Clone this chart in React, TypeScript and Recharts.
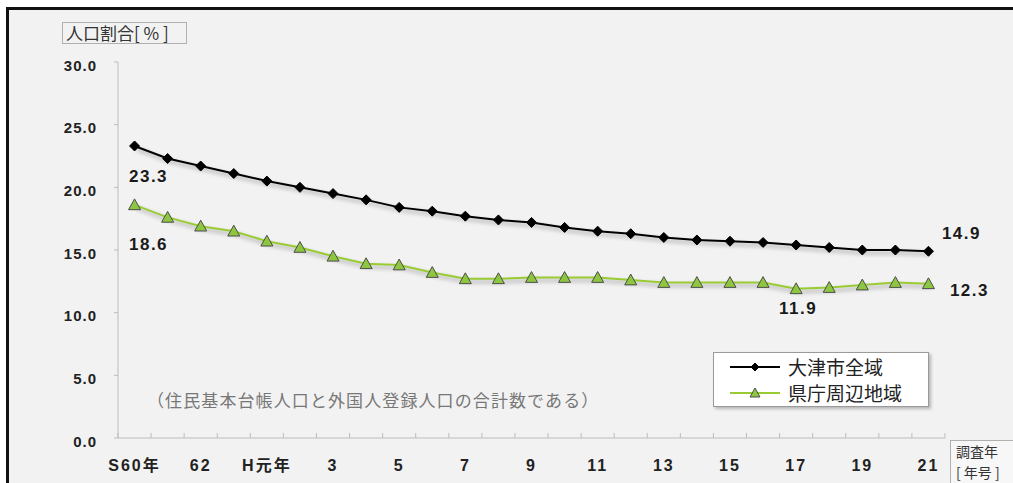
import React from 'react';
import { ComposedChart, Line, XAxis, YAxis, Legend } from 'recharts';

// survey years, Showa 60 through Heisei 21
const years = [
  'S60', 'S61', 'S62', 'S63', 'H1', 'H2', 'H3', 'H4', 'H5', 'H6', 'H7', 'H8', 'H9',
  'H10', 'H11', 'H12', 'H13', 'H14', 'H15', 'H16', 'H17', 'H18', 'H19', 'H20', 'H21',
];

// only every second year gets a label on the axis
const tickLabels: Record<string, string> = {
  S60: 'S60年', S62: '62', H1: 'H元年', H3: '3', H5: '5', H7: '7', H9: '9',
  H11: '11', H13: '13', H15: '15', H17: '17', H19: '19', H21: '21',
};

// 大津市全域
const otsuCity = [
  23.3, 22.3, 21.7, 21.1, 20.5, 20.0, 19.5, 19.0, 18.4, 18.1, 17.7, 17.4, 17.2,
  16.8, 16.5, 16.3, 16.0, 15.8, 15.7, 15.6, 15.4, 15.2, 15.0, 15.0, 14.9,
];

// 県庁周辺地域
const prefOfficeArea = [
  18.6, 17.6, 16.9, 16.5, 15.7, 15.2, 14.5, 13.9, 13.8, 13.2, 12.7, 12.7, 12.8,
  12.8, 12.8, 12.6, 12.4, 12.4, 12.4, 12.4, 11.9, 12.0, 12.2, 12.4, 12.3,
];

const yTicks = [0, 5, 10, 15, 20, 25, 30];

const data = years.map((year, i) => ({
  year,
  otsu: otsuCity[i],
  pref: prefOfficeArea[i],
}));

const W = 1013;
const H = 483;
const PLOT_LEFT = 118;
const PLOT_RIGHT = 945;
const PLOT_TOP = 62;
const PLOT_BOTTOM = 438;
const BAND = (PLOT_RIGHT - PLOT_LEFT) / years.length;

const NUM_FONT = "'Liberation Sans', Arial, 'Noto Sans CJK JP', sans-serif";
const JP_FONT = "'Noto Sans CJK JP', 'Liberation Sans', sans-serif";
const GREEN = '#99cc33';
const AXIS_GRAY = '#bdbdbd';

// where each value label sits relative to its point
const otsuLabelPos: Record<number, [number, number]> = { 0: [14, 31], 24: [33, -18] };
const prefLabelPos: Record<number, [number, number]> = { 0: [14, 40], 20: [2, 20], 24: [41, 7] };

const Diamond = ({ cx, cy, r = 5 }: any) => (
  <polygon
    points={`${cx},${cy - r} ${cx + r},${cy} ${cx},${cy + r} ${cx - r},${cy}`}
    fill="#000"
    stroke="#000"
    strokeWidth={1}
  />
);

const Triangle = ({ cx, cy, s = 6 }: any) => (
  <polygon
    points={`${cx},${cy - s} ${cx + s},${cy + s * 0.8} ${cx - s},${cy + s * 0.8}`}
    fill="#8dc63f"
    stroke="#4d4d4d"
    strokeWidth={1}
  />
);

const makeLabel = (pos: Record<number, [number, number]>) => (props: any) => {
  const { x, y, value, index } = props;
  const off = pos[index];
  if (!off) return null;
  return (
    <text
      key={`lbl-${index}`}
      x={x + off[0]}
      y={y + off[1]}
      textAnchor="middle"
      dominantBaseline="central"
      fontFamily={NUM_FONT}
      fontWeight="bold"
      fontSize={17}
      letterSpacing={1.5}
      fill="#1a1a1a"
    >
      {Number(value).toFixed(1)}
    </text>
  );
};

const XTick = ({ x, payload }: any) => {
  const i = years.indexOf(payload.value);
  const label = tickLabels[payload.value];
  const left = x - BAND / 2;
  return (
    <g>
      <line x1={left} x2={left} y1={PLOT_BOTTOM - 5} y2={PLOT_BOTTOM} stroke={AXIS_GRAY} />
      {i === years.length - 1 && (
        <line x1={x + BAND / 2} x2={x + BAND / 2} y1={PLOT_BOTTOM - 5} y2={PLOT_BOTTOM} stroke={AXIS_GRAY} />
      )}
      {label && (
        <text
          x={x}
          y={471}
          textAnchor="middle"
          fontFamily={NUM_FONT}
          fontWeight="bold"
          fontSize={16}
          letterSpacing={2}
          fill="#222"
        >
          {label}
        </text>
      )}
    </g>
  );
};

const YTick = ({ x, y, payload }: any) => (
  <text
    x={x}
    y={y + 3}
    textAnchor="end"
    dominantBaseline="central"
    fontFamily={NUM_FONT}
    fontWeight="bold"
    fontSize={15}
    letterSpacing={1}
    fill="#222"
  >
    {Number(payload.value).toFixed(1)}
  </text>
);

const legendItems = [
  { name: '大津市全域', color: '#000', marker: 'diamond' },
  { name: '県庁周辺地域', color: GREEN, marker: 'triangle' },
];

const LegendBox = () => (
  <div
    style={{
      width: 216,
      height: 55,
      background: '#fff',
      border: '1px solid #9a9a9a',
      boxShadow: '2px 2px 3px rgba(0,0,0,0.25)',
      boxSizing: 'border-box',
      paddingTop: 1,
    }}
  >
    {legendItems.map((item) => (
      <div key={item.name} style={{ position: 'relative', height: 26 }}>
        <svg width={60} height={26} style={{ position: 'absolute', left: 14, top: 0 }}>
          <line x1={2} x2={52} y1={13} y2={13} stroke={item.color} strokeWidth={2} />
          {item.marker === 'diamond' ? <Diamond cx={27} cy={13} r={4} /> : <Triangle cx={27} cy={13} s={5} />}
        </svg>
        <span
          style={{
            position: 'absolute',
            left: 74,
            top: 0,
            lineHeight: '26px',
            fontFamily: JP_FONT,
            fontSize: 19,
            color: '#222',
            whiteSpace: 'nowrap',
          }}
        >
          {item.name}
        </span>
      </div>
    ))}
  </div>
);

const captionLine: React.CSSProperties = {
  position: 'absolute',
  left: 5,
  fontFamily: JP_FONT,
  fontSize: 14,
  lineHeight: '14px',
  color: '#333',
  whiteSpace: 'nowrap',
};

export default function App() {
  return (
    <div style={{ position: 'absolute', left: 0, top: 0, width: W, height: H, background: '#fff', overflow: 'hidden' }}>
      <style>{`.marker-shadow { filter: drop-shadow(2px 3px 2px rgba(0,0,0,0.35)); }`}</style>
      <div
        style={{
          position: 'absolute',
          left: 6,
          top: 7,
          width: W,
          height: H,
          borderLeft: '3px solid #111',
          borderTop: '3px solid #111',
          background: '#f2f2f2',
        }}
      />
      <div style={{ position: 'absolute', left: 0, top: 0 }}>
        <ComposedChart
          width={W}
          height={H}
          data={data}
          margin={{ top: PLOT_TOP, right: W - PLOT_RIGHT, bottom: 0, left: 0 }}
        >
          <XAxis
            dataKey="year"
            type="category"
            interval={0}
            padding={{ left: BAND / 2, right: BAND / 2 }}
            height={H - PLOT_BOTTOM}
            tickLine={false}
            axisLine={{ stroke: AXIS_GRAY }}
            tick={<XTick />}
          />
          <YAxis
            type="number"
            domain={[0, 30]}
            ticks={yTicks}
            width={PLOT_LEFT}
            tickSize={4}
            tickMargin={17}
            tickLine={{ stroke: AXIS_GRAY }}
            axisLine={{ stroke: AXIS_GRAY }}
            tick={<YTick />}
          />
          <Legend
            layout="vertical"
            align="center"
            verticalAlign="middle"
            wrapperStyle={{ left: 713, top: 352, width: 216 }}
            content={() => <LegendBox />}
          />
          <Line
            className="marker-shadow"
            dataKey="otsu"
            name="大津市全域"
            stroke="#000"
            strokeWidth={2}
            dot={(p: any) => <Diamond key={`d-${p.index}`} cx={p.cx} cy={p.cy} />}
            activeDot={false}
            label={makeLabel(otsuLabelPos)}
            isAnimationActive={false}
          />
          <Line
            className="marker-shadow"
            dataKey="pref"
            name="県庁周辺地域"
            stroke={GREEN}
            strokeWidth={2}
            dot={(p: any) => <Triangle key={`t-${p.index}`} cx={p.cx} cy={p.cy} />}
            activeDot={false}
            label={makeLabel(prefLabelPos)}
            isAnimationActive={false}
          />
        </ComposedChart>
      </div>
      {/* y axis caption */}
      <div
        style={{
          position: 'absolute',
          left: 62,
          top: 22,
          width: 125,
          height: 22,
          border: '1px solid #b0b0b0',
          boxSizing: 'border-box',
          fontFamily: JP_FONT,
          fontSize: 17,
          lineHeight: '20px',
          color: '#333',
          paddingLeft: 3,
          whiteSpace: 'nowrap',
        }}
      >
        人口割合[ % ]
      </div>
      {/* note inside the plot */}
      <div
        style={{
          position: 'absolute',
          left: 147,
          top: 389,
          fontFamily: JP_FONT,
          fontSize: 17,
          letterSpacing: 1.1,
          lineHeight: '22px',
          color: '#777',
          whiteSpace: 'nowrap',
        }}
      >
        （住民基本台帳人口と外国人登録人口の合計数である）
      </div>
      {/* x axis caption */}
      <div
        style={{
          position: 'absolute',
          left: 950,
          top: 440,
          width: 80,
          height: 60,
          borderLeft: '1px solid #b0b0b0',
          borderTop: '1px solid #b0b0b0',
          background: '#f7f7f7',
        }}
      >
        <span style={{ ...captionLine, top: 3 }}>調査年</span>
        <span style={{ ...captionLine, top: 24 }}>[ 年号 ]</span>
      </div>
    </div>
  );
}
